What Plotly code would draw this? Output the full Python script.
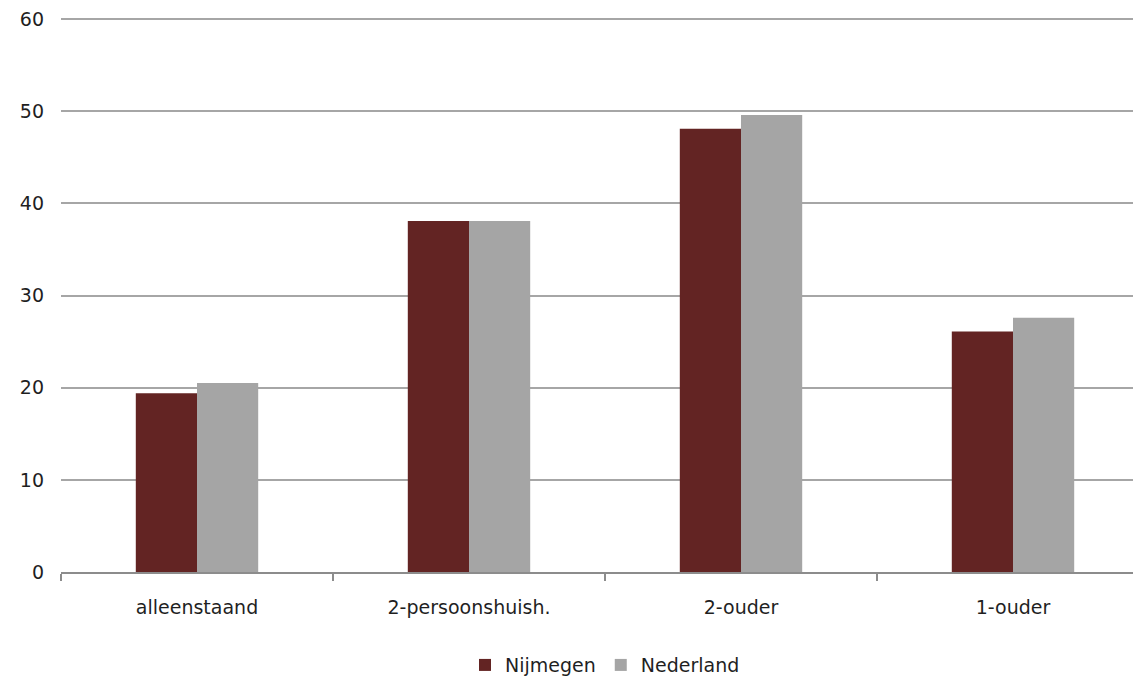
import plotly.graph_objects as go

categories = ["alleenstaand", "2-persoonshuish.", "2-ouder", "1-ouder"]
nijmegen = [19.4, 38.1, 48.1, 26.1]
nederland = [20.5, 38.1, 49.6, 27.6]
y_ticks = [0, 10, 20, 30, 40, 50, 60]

font_family = "DejaVu Sans, Open Sans, sans-serif"

fig = go.Figure()
fig.add_trace(go.Bar(name="Nijmegen", x=categories, y=nijmegen,
                     marker=dict(color="#632423", line=dict(width=0))))
fig.add_trace(go.Bar(name="Nederland", x=categories, y=nederland,
                     marker=dict(color="#A5A5A5", line=dict(width=0))))

fig.update_layout(
    width=1141, height=680,
    margin=dict(l=53, r=0, t=10, b=116),
    paper_bgcolor="white", plot_bgcolor="white",
    barmode="group", bargap=0.55, bargroupgap=0,
    font=dict(family=font_family, size=19, color="#1f1f1f"),
    legend=dict(orientation="h", x=0.5, xanchor="center", y=-0.168, yanchor="middle",
                font=dict(size=19), itemwidth=30, traceorder="normal"),
    showlegend=True,
)
fig.update_xaxes(
    type="category", range=[-0.5, 3.5], automargin=False,
    showline=True, linecolor="#8C8C8C", linewidth=1.5,
    ticks="outside", tickson="boundaries", ticklen=7, tickcolor="#8C8C8C", tickwidth=1.5,
    showgrid=False, tickfont=dict(size=19), ticklabelstandoff=17,
)
fig.update_yaxes(
    range=[0, 60.12], tickvals=y_ticks, automargin=False,
    showgrid=True, gridcolor="#A6A6A6", gridwidth=1.5,
    zeroline=False, showline=False, ticks="",
    ticklabelstandoff=16, tickfont=dict(size=19), ticklabeloverflow="allow",
)

fig.write_html("out.html")
